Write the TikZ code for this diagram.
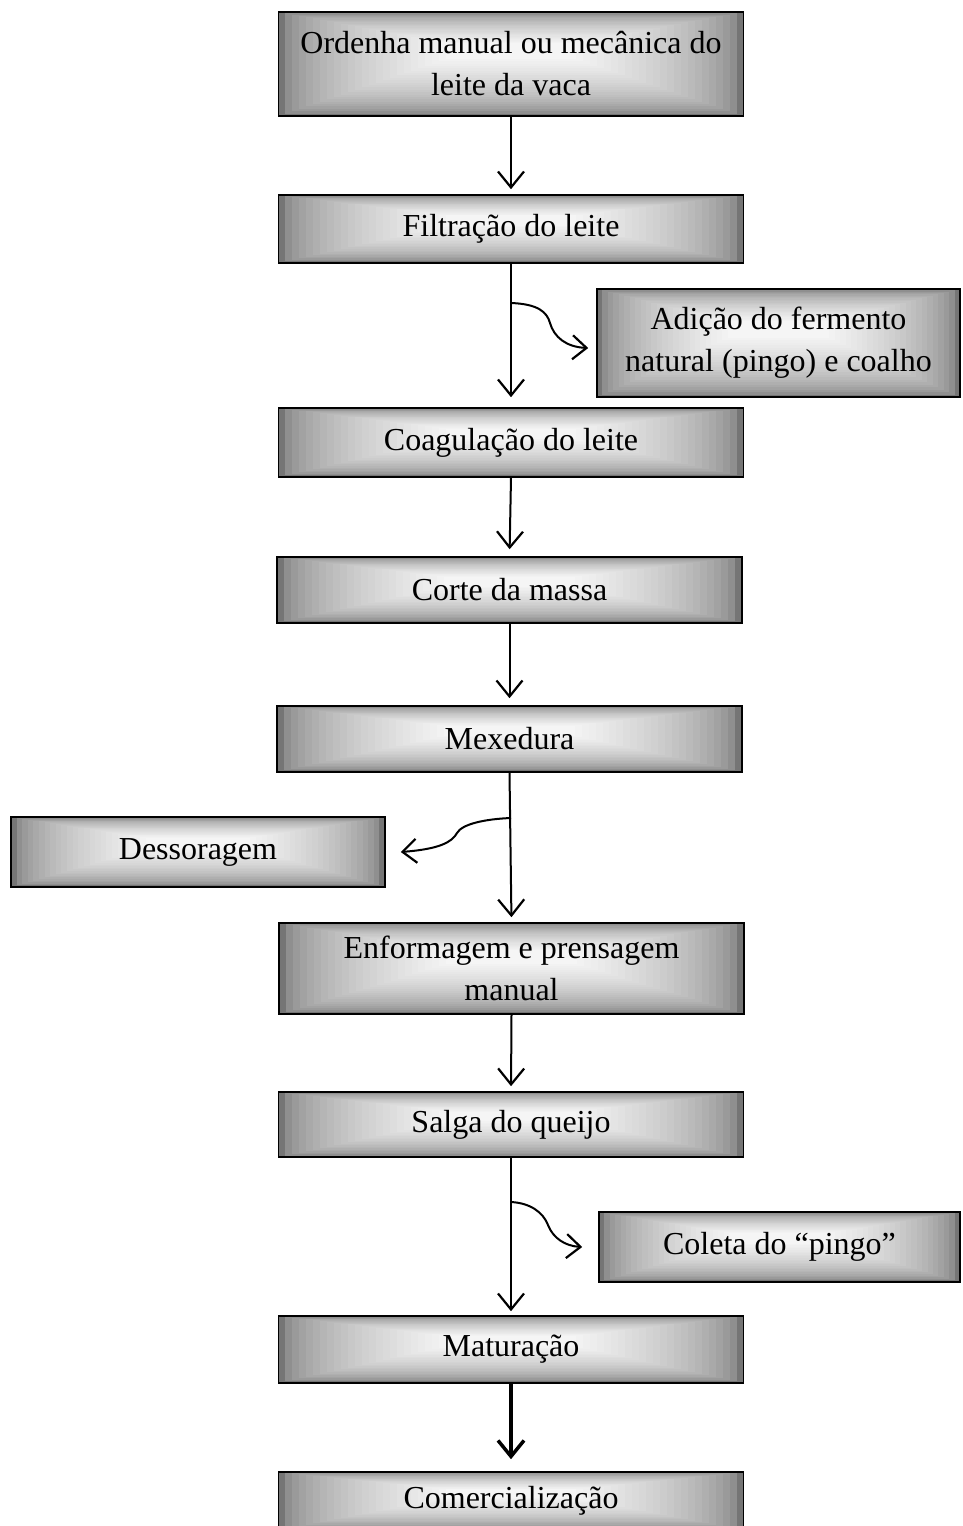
\documentclass[tikz,border=0pt]{standalone}
\usepackage{fontspec}
\setmainfont{Liberation Serif}
\usetikzlibrary{arrows.meta,calc}
\newcommand\boxgrad{%
  \foreach \i in {0,...,24}{%
    \pgfmathsetmacro\t{\i/24}%
    \pgfmathsetmacro\c{46+50*sqrt(\t)}%
    \fill[white!\c!black] let \p1=(path picture bounding box.south west), \p2=(path picture bounding box.north east) in
      ({\x1+0.36*\t*(\x2-\x1)},{\y1+0.55*\t*(\y2-\y1)}) rectangle ({\x2-0.36*\t*(\x2-\x1)},{\y2-0.30*\t*(\y2-\y1)});
  }%
}
\tikzset{
  stepbox/.style={draw=black, line width=1.6pt, inner sep=0pt, align=center,
    font=\fontsize{32}{42}\selectfont, path picture={\boxgrad}},
  conn/.style={line width=2pt, -{Straight Barb[length=16pt,width=26pt,line width=2.2pt]}, shorten >=5pt},
  bconn/.style={line width=2pt, -{Straight Barb[length=14pt,width=24pt,line width=2.2pt]}},
}
\begin{document}
\begin{tikzpicture}[x=1pt,y=1pt]
\useasboundingbox (0,0) rectangle (963,-1526);
\node[stepbox, minimum width=465pt, minimum height=104pt] (n1) at (511,-64) {Ordenha manual ou mecânica do\\leite da vaca};
\node[stepbox, minimum width=465pt, minimum height=68pt] (n2) at (511,-229) {Filtração do leite};
\node[stepbox, minimum width=363pt, minimum height=108pt] (add) at (778.5,-343) {Adição do fermento\\natural (pingo) e coalho};
\node[stepbox, minimum width=465pt, minimum height=69pt] (n3) at (511,-442.5) {Coagulação do leite};
\node[stepbox, minimum width=465pt, minimum height=66pt] (n4) at (509.5,-590) {Corte da massa};
\node[stepbox, minimum width=465pt, minimum height=66pt] (n5) at (509.5,-739) {Mexedura};
\node[stepbox, minimum width=374pt, minimum height=70pt] (dess) at (198,-852) {Dessoragem};
\node[stepbox, minimum width=465pt, minimum height=91pt] (n6) at (511.5,-968.5) {Enformagem e prensagem\\manual};
\node[stepbox, minimum width=465pt, minimum height=65pt] (n7) at (511,-1124.5) {Salga do queijo};
\node[stepbox, minimum width=361pt, minimum height=70pt] (col) at (779.5,-1247) {Coleta do ``pingo''};
\node[stepbox, minimum width=465pt, minimum height=67pt] (n8) at (511,-1349.5) {Maturação};
\node[stepbox, minimum width=465pt, minimum height=58pt] (n9) at (511,-1501) {Comercialização};

\coordinate (b1) at (511,-303);
\coordinate (b2) at (511,-818);
\coordinate (b3) at (511,-1202);

\draw[conn] (n1.south) -- (n2.north);
\draw[conn, shorten >=10pt] (n2.south) -- (n3.north);
\draw[conn, shorten >=7pt] (n3.south) -- (n4.north);
\draw[conn, shorten >=7pt] (n4.south) -- (n5.north);
\draw[conn] (n5.south) -- (n6.north);
\draw[conn] (n6.south) -- (n7.north);
\draw[conn, shorten >=4pt] (n7.south) -- (n8.north);
\draw[conn, line width=3.5pt, shorten >=12pt, -{Straight Barb[length=16pt,width=26pt,line width=3.5pt]}] (n8.south) -- (n9.north);

\draw[bconn] (b1) .. controls (538,-304) and (547,-312) .. (550,-323) .. controls (554,-337) and (566,-347) .. ([shift={(-8pt,-5pt)}]add.west);
\draw[bconn] (b2) .. controls (485,-819) and (462,-824) .. (457,-833) .. controls (452,-842) and (440,-849) .. ([xshift=15pt]dess.east);
\draw[bconn] (b3) .. controls (530,-1203) and (543,-1212) .. (548,-1225) .. controls (553,-1238) and (565,-1246) .. ([xshift=-16pt]col.west);
\end{tikzpicture}
\end{document}
